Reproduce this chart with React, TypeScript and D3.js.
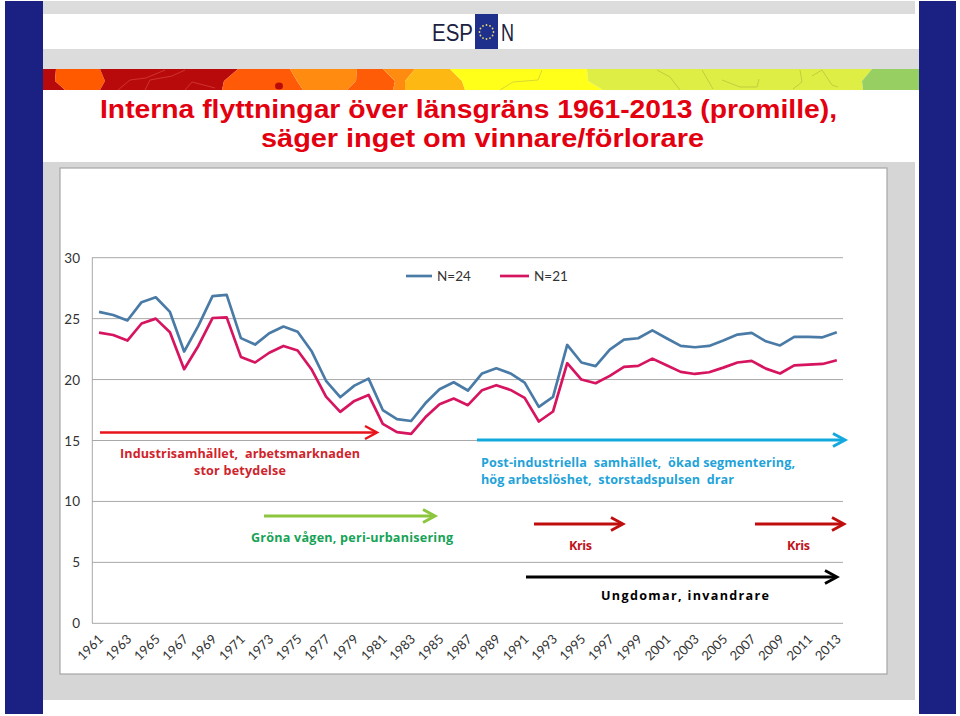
import React from "react";
import * as d3 from "d3";

const years = d3.range(1961, 2014);
const tickYears = years.filter((y) => (y - 1961) % 2 === 0);
const yTicks = [0, 5, 10, 15, 20, 25, 30];
const seriesN24 = [
  25.55, 25.3, 24.85, 26.35, 26.75, 25.55, 22.3, 24.4, 26.85, 26.95,
  23.4, 22.87, 23.8, 24.35, 23.93, 22.3, 19.9, 18.55, 19.5, 20.08,
  17.5, 16.75, 16.6, 18.05, 19.2, 19.78, 19.1, 20.5, 20.93, 20.5,
  19.75, 17.76, 18.58, 22.84, 21.4, 21.1, 22.46, 23.28, 23.39, 24.04,
  23.39, 22.76, 22.65, 22.76, 23.2, 23.69, 23.83, 23.14, 22.8, 23.5,
  23.5, 23.47, 23.88,
];
const seriesN21 = [
  23.85, 23.66, 23.2, 24.6, 25.0, 23.88, 20.85, 22.76, 25.05, 25.1,
  21.86, 21.4, 22.2, 22.76, 22.38, 20.8, 18.6, 17.35, 18.25, 18.74,
  16.37, 15.68, 15.55, 16.9, 17.98, 18.44, 17.9, 19.13, 19.54, 19.15,
  18.5, 16.56, 17.38, 21.34, 20.0, 19.7, 20.3, 21.04, 21.12, 21.72,
  21.17, 20.63, 20.46, 20.6, 20.98, 21.4, 21.53, 20.9, 20.5, 21.17,
  21.23, 21.28, 21.58,
];
const legendItems = [
  { label: "N=24", color: "#4a7ba7", x0: 406, x1: 432 },
  { label: "N=21", color: "#d6145f", x0: 500, x1: 529 },
];
const arrows = [
  { x0: 100, x1: 378, y: 432.5, color: "#e8141c", w: 2.4 },
  { x0: 477, x1: 846, y: 440, color: "#12a9df", w: 3 },
  { x0: 264, x1: 436, y: 516, color: "#8cc63f", w: 3 },
  { x0: 534, x1: 624, y: 524, color: "#c00d0d", w: 2.8 },
  { x0: 755, x1: 845, y: 524, color: "#c00d0d", w: 2.8 },
  { x0: 526, x1: 838, y: 577, color: "#000000", w: 2.8 },
];
const notes = [
  { text: "Industrisamhället,  arbetsmarknaden", x: 120, y: 458, color: "#d0232b", width: 240 },
  { text: "stor betydelse", x: 194, y: 475, color: "#d0232b", width: 92 },
  { text: "Post-industriella  samhället,  ökad segmentering,", x: 481, y: 467, color: "#1fa3d8", width: 314 },
  { text: "hög arbetslöshet,  storstadspulsen  drar", x: 481, y: 483.5, color: "#1fa3d8", width: 253 },
  { text: "Gröna vågen, peri-urbanisering", x: 251, y: 542, color: "#15a356", width: 202 },
  { text: "Kris", x: 569, y: 550, color: "#c0141c", width: 23 },
  { text: "Kris", x: 787, y: 550, color: "#c0141c", width: 23 },
  { text: "Ungdomar, invandrare", x: 601, y: 600, color: "#000000", width: 168 },
];
const stripRegions = [
  { top: 43, mid: 43, bottom: 43, color: "#b80a0a" },
  { top: 56, mid: 55, bottom: 65, color: "#ff5a00" },
  { top: 100, mid: 105, bottom: 100, color: "#b80a0a" },
  { top: 238, mid: 224, bottom: 222, color: "#ff5a08" },
  { top: 290, mid: 297, bottom: 303, color: "#ff8c10" },
  { top: 357, mid: 356, bottom: 347, color: "#ff5c08" },
  { top: 383, mid: 395, bottom: 393, color: "#ff8c10" },
  { top: 415, mid: 405, bottom: 405, color: "#fdb813" },
  { top: 450, mid: 462, bottom: 465, color: "#ffff1a" },
  { top: 587, mid: 588, bottom: 603, color: "#dfee45" },
  { top: 872, mid: 862, bottom: 863, color: "#97cf62" },
];
const stripEnd = 919;
const stripBorders: [string, [number, number][]][] = [
  ["#c9c93a", [[542, 70], [538, 80], [513, 82], [500, 90]]],
  ["#b4bf3a", [[657, 70], [670, 77], [680, 90]]],
  ["#b4bf3a", [[702, 70], [713, 89]]],
  ["#b4bf3a", [[722, 80], [740, 87], [757, 87], [759, 79]]],
  ["#b4bf3a", [[800, 70], [802, 82], [793, 89]]],
  ["#b4bf3a", [[812, 76], [822, 70], [832, 85], [838, 87]]],
  ["#d9453e", [[118, 90], [130, 80], [146, 78], [165, 70]]],
  ["#d9453e", [[145, 90], [150, 80], [172, 76], [185, 70]]],
  ["#d9453e", [[185, 90], [192, 82], [215, 88]]],
];
const stars = d3.range(12);

const FONT = "Lato, 'Open Sans', sans-serif";
const NOTE_FONT = "'Open Sans', Lato, sans-serif";
const GRID = "#a8a8a8";

const x = d3.scalePoint<number>().domain(years).range([99, 836.8]);
const y = d3.scaleLinear().domain([0, 30]).range([623.3, 257.7]);
const line = d3
  .line<number>()
  .x((_, i) => x(years[i]) as number)
  .y((d) => y(d));
const borderLine = d3.line();

function Arrow({ x0, x1, y: ay, color, w }: { x0: number; x1: number; y: number; color: string; w: number }) {
  const path = d3.path();
  path.moveTo(x1 - 13, ay - 6.5);
  path.lineTo(x1 - 1, ay);
  path.lineTo(x1 - 13, ay + 6.5);
  return (
    <g fill="none" stroke={color} strokeWidth={w}>
      <line x1={x0} x2={x1 - 2} y1={ay} y2={ay} />
      <path d={path.toString()} />
    </g>
  );
}

export default function App() {
  return (
    <svg
      width={960}
      height={716}
      viewBox="0 0 960 716"
      style={{ position: "absolute", left: 0, top: 0, background: "#fff" }}
    >
      {/* page frame */}
      <rect x={43} y={1} width={872} height={13} fill="#dcdcdc" />
      <rect x={43} y={49} width={876} height={20} fill="#dcdcdc" />
      <rect x={43} y={162} width={872} height={538} fill="#d6d6d6" />
      <rect x={60} y={168} width={827} height={506} fill="#fff" stroke="#a6a6a6" strokeWidth={1.2} />

      {/* coloured strip */}
      {stripRegions.map((r, i) => {
        const next = stripRegions[i + 1];
        const xt = next ? next.top : stripEnd;
        const xm = next ? next.mid : stripEnd;
        const xb = next ? next.bottom : stripEnd;
        return (
          <polygon
            key={i}
            points={`${r.top},69 ${xt},69 ${xm},81 ${xb},90 ${r.bottom},90 ${r.mid},81`}
            fill={r.color}
          />
        );
      })}
      {stripBorders.map(([c, pts], i) => (
        <path key={i} d={borderLine(pts) ?? ""} fill="none" stroke={c} strokeWidth={0.7} />
      ))}
      <ellipse cx={279} cy={86} rx={4} ry={3.5} fill="#b80a0a" />

      <rect x={5} y={1} width={38} height={713} fill="#1a2183" />
      <rect x={919} y={1} width={37} height={713} fill="#1a2183" />

      {/* logo */}
      <text
        x={432}
        y={41}
        fontFamily="'Liberation Sans', sans-serif"
        fontSize={24}
        textLength={41}
        lengthAdjust="spacingAndGlyphs"
        fill="#1b2240"
      >
        ESP
      </text>
      <rect x={475} y={14} width={23} height={35} fill="#1e2f8c" />
      {stars.map((s) => (
        <circle
          key={s}
          cx={486.5 + 7 * Math.cos((s * Math.PI) / 6)}
          cy={32 + 7 * Math.sin((s * Math.PI) / 6)}
          r={0.9}
          fill="#e9dc6a"
        />
      ))}
      <text
        x={501}
        y={41}
        fontFamily="'Liberation Sans', sans-serif"
        fontSize={24}
        textLength={13}
        lengthAdjust="spacingAndGlyphs"
        fill="#1b2240"
      >
        N
      </text>

      {/* title */}
      <g fontFamily="'Liberation Sans', Arial, sans-serif" fontWeight={700} fontSize={26} fill="#e3000f">
        <text x={100} y={118} textLength={737} lengthAdjust="spacingAndGlyphs">
          Interna flyttningar över länsgräns 1961-2013 (promille),
        </text>
        <text x={261} y={147} textLength={443} lengthAdjust="spacingAndGlyphs">
          säger inget om vinnare/förlorare
        </text>
      </g>

      {/* grid */}
      {yTicks.map((t) => (
        <g key={t}>
          <line x1={92} x2={843} y1={y(t)} y2={y(t)} stroke={GRID} strokeWidth={1} />
          <text x={80} y={y(t) + 5} textAnchor="end" fontFamily={FONT} fontSize={13.5} fill="#333">
            {t}
          </text>
        </g>
      ))}
      <line x1={92.3} x2={92.3} y1={y(30)} y2={y(0)} stroke={GRID} strokeWidth={1} />

      {/* x labels */}
      {tickYears.map((yr) => (
        <text
          key={yr}
          transform={`translate(${(x(yr) as number) + 5},${640}) rotate(-45)`}
          textAnchor="end"
          fontFamily={FONT}
          fontSize={13}
          fill="#333"
        >
          {yr}
        </text>
      ))}

      {/* series */}
      <path d={line(seriesN24) ?? ""} fill="none" stroke="#4a7ba7" strokeWidth={2.7} strokeLinejoin="round" />
      <path d={line(seriesN21) ?? ""} fill="none" stroke="#d6145f" strokeWidth={2.7} strokeLinejoin="round" />

      {/* legend */}
      {legendItems.map((l) => (
        <g key={l.label}>
          <line x1={l.x0} x2={l.x1} y1={276} y2={276} stroke={l.color} strokeWidth={2.7} />
          <text x={l.x1 + 5} y={280.5} fontFamily={FONT} fontSize={13.5} fill="#333">
            {l.label}
          </text>
        </g>
      ))}

      {/* annotations */}
      {arrows.map((a, i) => (
        <Arrow key={i} {...a} />
      ))}
      {notes.map((n, i) => (
        <text
          key={i}
          x={n.x}
          y={n.y}
          fontFamily={NOTE_FONT}
          fontWeight={700}
          fontSize={12.6}
          fill={n.color}
          xmlSpace="preserve"
          textLength={n.width}
          lengthAdjust="spacing"
        >
          {n.text}
        </text>
      ))}
    </svg>
  );
}
